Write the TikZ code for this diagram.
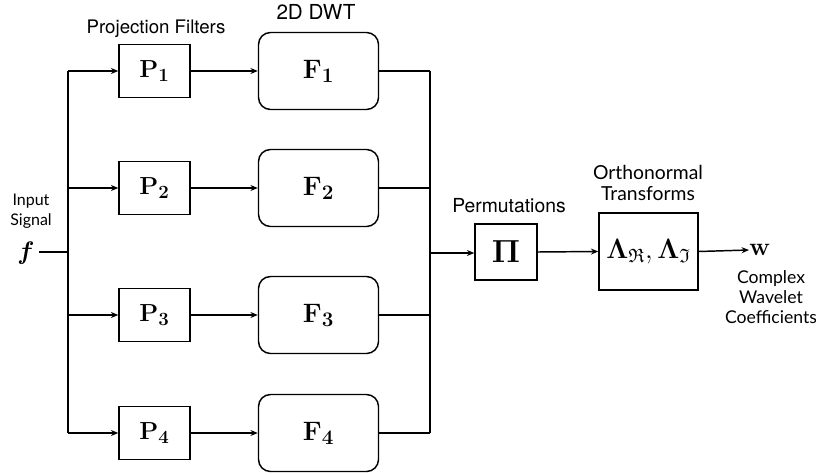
\RequirePackage{fix-cm}
\documentclass[tikz,border=0pt]{standalone}
\usepackage{amsmath,amssymb,bm}
\usepackage[no-math]{fontspec}
\newfontfamily\helv{TeX Gyre Heros}
\newfontfamily\gill{Lato}
\usetikzlibrary{arrows.meta}
\newcommand{\subsz}[2]{\mbox{\fontsize{#1}{#1}\selectfont$#2$}}
\tikzset{
  px/.style={x=0.75pt,y=-0.75pt},
  line/.style={line width=1.1pt},
  arr/.style={line width=1.1pt,-{Stealth[length=5.5pt,width=4.5pt]}},
  pbox/.style={draw,line width=1.1pt,minimum width={71*0.75pt},minimum height={53*0.75pt},inner sep=0pt,font=\fontsize{18.5}{20}\selectfont},
  fbox/.style={draw,line width=1.1pt,rounded corners=9pt,minimum width={120*0.75pt},minimum height={77*0.75pt},inner sep=0pt,font=\fontsize{20}{21}\selectfont},
  hlabel/.style={font=\helv\fontsize{14.5}{16}\selectfont},
}
\begin{document}
\begin{tikzpicture}[px]
\useasboundingbox (0,0) rectangle (816,474);
% left input
\node (f) at (26,253) {\fontsize{19}{21}\selectfont$\boldsymbol{f}$};
\node[font=\gill\fontsize{12}{15}\selectfont,align=center] (inlab) at (31,211) {Input\\Signal};
\coordinate (lt) at (68,71);
\coordinate (lb) at (68,433);
\coordinate (lm) at (68,252);
\draw[line] (f.east |- lm) -- (lm);
\draw[line] (lt) -- (lb);
% rows
\foreach \i/\y in {1/71,2/188,3/315,4/433}{
  \coordinate (l\i) at (68,\y);
  \coordinate (r\i) at (430,\y);
  \node[pbox] (P\i) at (154.5,\y) {$\mathbf{P}_{\subsz{14}{\mathbf{\i}}}$};
  \node[fbox] (F\i) at (318.5,\y) {$\mathbf{F}_{\subsz{15.5}{\mathbf{\i}}}$};
  \draw[arr] (l\i) -- (P\i.west);
  \draw[arr] (P\i.east) -- (F\i.west);
  \draw[line] (F\i.east) -- (r\i);
}
\node[hlabel,font=\helv\fontsize{14}{16}\selectfont] (plab) at (156,29) {Projection Filters};
\node[hlabel,font=\helv\fontsize{15.5}{16}\selectfont] (flab) at (316,12) {2D DWT};
% right trunk
\draw[line] (r1) -- (r4);
\coordinate (rm) at (430,253);
\node[draw,line width=1.1pt,minimum width={62*0.75pt},minimum height={56*0.75pt},inner sep=0pt,font=\fontsize{24}{26}\selectfont] (Pi) at (506,252) {$\mathbf{\Pi}$};
\node[hlabel] (permlab) at (509,206) {Permutations};
\draw[arr] (rm) -- (Pi.west |- rm);
\node[draw,line width=1.1pt,minimum width={99*0.75pt},minimum height={77*0.75pt},inner sep=0pt,font=\fontsize{21}{22}\selectfont] (L) at (648.5,251.5) {$\boldsymbol{\Lambda}_{\subsz{14.5}{\mathfrak{R}}},\boldsymbol{\Lambda}_{\subsz{14.5}{\mathfrak{I}}}$};
\node[font=\gill\fontsize{14.5}{15.75}\selectfont,align=center] (ortlab) at (648,183) {Orthonormal\\Transforms};
\draw[arr] (Pi.east) -- (L.west);
\node[anchor=west,inner sep=0pt,font=\fontsize{19}{20}\selectfont] (w) at (749,250) {$\mathbf{w}$};
\draw[arr] (L.east) -- (w.west);
\node[font=\gill\fontsize{13.2}{15}\selectfont,align=center] (clab) at (771,297) {Complex\\Wavelet\\Coefficients};
\end{tikzpicture}
\end{document}
